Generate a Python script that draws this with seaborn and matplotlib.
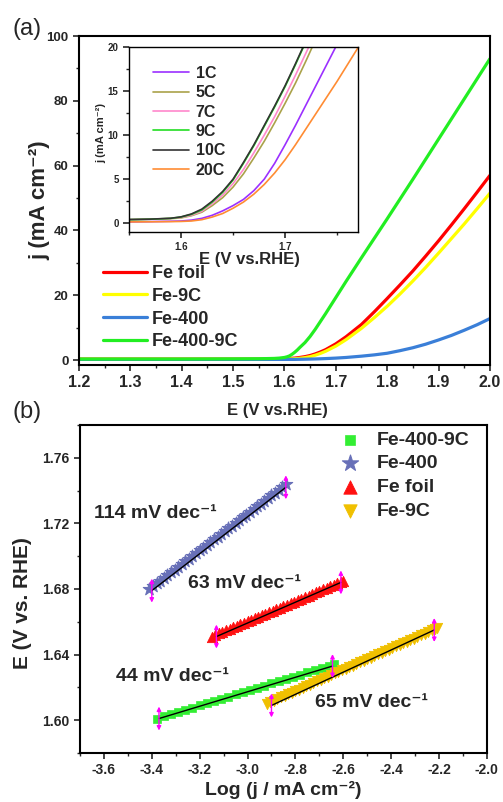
import numpy as np
import pandas as pd
import matplotlib
matplotlib.use('Agg')
import matplotlib.pyplot as plt
import seaborn as sns
from matplotlib.ticker import MultipleLocator, FormatStrFormatter

sns.set_style('ticks')
plt.rcParams['font.family'] = ['Liberation Sans', 'DejaVu Sans']
plt.rcParams['font.weight'] = 'bold'
plt.rcParams['axes.labelweight'] = 'bold'

# (a) LSV curves
E_main = [1.20, 1.30, 1.40, 1.50, 1.55, 1.58, 1.59, 1.60, 1.605, 1.61, 1.615, 1.62,
          1.625, 1.63, 1.64, 1.65, 1.66, 1.67, 1.68, 1.70, 1.72, 1.75, 1.775, 1.80,
          1.825, 1.85, 1.875, 1.90, 1.925, 1.95, 1.975, 2.00]
j_fe_foil = [0.3, 0.3, 0.3, 0.3, 0.3, 0.35, 0.38, 0.4, 0.45, 0.5, 0.55, 0.6,
             0.7, 0.8, 1.05, 1.4, 1.9, 2.5, 3.2, 5.0, 7.2, 11.0, 14.9, 19.0,
             23.2, 27.5, 32.1, 36.8, 41.7, 46.7, 51.8, 57.0]
j_fe_9c = [0.3, 0.3, 0.3, 0.3, 0.3, 0.3, 0.3, 0.3, 0.32, 0.35, 0.38, 0.42,
           0.48, 0.55, 0.75, 1.05, 1.5, 2.05, 2.7, 4.3, 6.3, 9.8, 13.1, 16.6,
           20.4, 24.4, 28.6, 33.0, 37.5, 42.0, 46.7, 51.5]
j_fe_400 = [0.2, 0.2, 0.2, 0.2, 0.2, 0.2, 0.2, 0.2, 0.2, 0.2, 0.2, 0.2,
            0.22, 0.23, 0.26, 0.3, 0.34, 0.39, 0.45, 0.6, 0.8, 1.2, 1.6, 2.1,
            2.9, 3.8, 4.9, 6.2, 7.6, 9.2, 10.9, 12.8]
j_fe_400_9c = [0.3, 0.3, 0.3, 0.35, 0.4, 0.5, 0.6, 0.8, 1.0, 1.3, 1.8, 2.4,
               3.1, 3.9, 5.4, 7.3, 9.5, 11.9, 14.3, 19.3, 24.3, 31.6, 37.6, 43.6,
               49.7, 55.8, 62.0, 68.2, 74.4, 80.6, 86.8, 93.0]
main_names = ['Fe foil', 'Fe-9C', 'Fe-400', 'Fe-400-9C']
main_colors = ['#ff0000', '#ffff00', '#3a7fd8', '#22ee22']

# inset: catalysts with different C content
E_ins = [1.55, 1.57, 1.59, 1.60, 1.61, 1.62, 1.63, 1.64, 1.65, 1.66, 1.67, 1.68,
         1.69, 1.70, 1.71, 1.72, 1.73, 1.74, 1.75, 1.76, 1.77]
j_1c = [0.15, 0.18, 0.22, 0.25, 0.35, 0.55, 0.9, 1.4, 2.0, 2.7, 3.7, 5.0,
        6.8, 8.9, 11.1, 13.4, 15.7, 18.0, 20.3, 22.6, 24.9]
j_5c = [0.4, 0.45, 0.52, 0.6, 0.85, 1.25, 2.0, 2.9, 4.1, 5.6, 7.4, 9.3,
        11.4, 13.6, 15.9, 18.4, 21.0, 23.6, 26.2, 28.8, 31.4]
j_7c = [0.4, 0.45, 0.55, 0.65, 0.9, 1.35, 2.2, 3.2, 4.5, 6.1, 8.0, 10.0,
        12.1, 14.4, 16.8, 19.3, 21.8, 24.4, 27.0, 29.6, 32.2]
j_9c = [0.4, 0.45, 0.55, 0.7, 1.0, 1.5, 2.4, 3.5, 4.9, 6.8, 8.8, 11.0,
        13.2, 15.5, 18.0, 20.6, 23.2, 25.8, 28.4, 31.0, 33.6]
j_10c = [0.42, 0.46, 0.56, 0.72, 1.05, 1.6, 2.5, 3.6, 5.0, 6.9, 8.9, 11.1,
         13.3, 15.6, 18.1, 20.7, 23.3, 25.9, 28.5, 31.1, 33.7]
j_20c = [0.15, 0.16, 0.18, 0.2, 0.25, 0.4, 0.7, 1.1, 1.7, 2.4, 3.3, 4.4,
         5.7, 7.2, 8.9, 10.7, 12.5, 14.3, 16.1, 18.0, 19.9]
ins_names = ['1C', '5C', '7C', '9C', '10C', '20C']
ins_colors = ['#9b30ff', '#aaa24a', '#ff88cc', '#22dd22', '#333333', '#ff8c33']

# (b) Tafel plots
logj_400_9c = [-3.38, -3.35, -3.32, -3.29, -3.26, -3.23, -3.20, -3.17, -3.14, -3.11,
               -3.08, -3.05, -3.02, -2.99, -2.96, -2.93, -2.90, -2.87, -2.84, -2.81,
               -2.78, -2.75, -2.72, -2.69, -2.66, -2.64]
E_400_9c = [1.6010, 1.6023, 1.6037, 1.6050, 1.6064, 1.6077, 1.6090, 1.6104, 1.6117, 1.6130,
            1.6144, 1.6157, 1.6171, 1.6184, 1.6197, 1.6211, 1.6224, 1.6237, 1.6251, 1.6264,
            1.6278, 1.6291, 1.6304, 1.6318, 1.6331, 1.6340]
logj_400 = [-3.410, -3.395, -3.380, -3.365, -3.350, -3.335, -3.320, -3.305, -3.290, -3.275,
            -3.260, -3.245, -3.230, -3.215, -3.200, -3.185, -3.170, -3.155, -3.140, -3.125,
            -3.110, -3.095, -3.080, -3.065, -3.050, -3.035, -3.020, -3.005, -2.990, -2.975,
            -2.960, -2.945, -2.930, -2.915, -2.900, -2.885, -2.870, -2.855, -2.840]
E_400 = [1.6800, 1.6817, 1.6834, 1.6850, 1.6867, 1.6884, 1.6901, 1.6918, 1.6934, 1.6951,
         1.6968, 1.6985, 1.7002, 1.7018, 1.7035, 1.7052, 1.7069, 1.7086, 1.7102, 1.7119,
         1.7136, 1.7153, 1.7170, 1.7186, 1.7203, 1.7220, 1.7237, 1.7254, 1.7270, 1.7287,
         1.7304, 1.7321, 1.7338, 1.7354, 1.7371, 1.7388, 1.7405, 1.7422, 1.7438]
logj_foil = [-3.150, -3.135, -3.120, -3.105, -3.090, -3.075, -3.060, -3.045, -3.030, -3.015,
             -3.000, -2.985, -2.970, -2.955, -2.940, -2.925, -2.910, -2.895, -2.880, -2.865,
             -2.850, -2.835, -2.820, -2.805, -2.790, -2.775, -2.760, -2.745, -2.730, -2.715,
             -2.700, -2.685, -2.670, -2.655, -2.640, -2.625, -2.610, -2.600]
E_foil = [1.6510, 1.6519, 1.6529, 1.6538, 1.6547, 1.6556, 1.6566, 1.6575, 1.6584, 1.6593,
          1.6603, 1.6612, 1.6621, 1.6630, 1.6640, 1.6649, 1.6658, 1.6668, 1.6677, 1.6686,
          1.6695, 1.6705, 1.6714, 1.6723, 1.6732, 1.6742, 1.6751, 1.6760, 1.6769, 1.6779,
          1.6788, 1.6797, 1.6806, 1.6816, 1.6825, 1.6834, 1.6844, 1.6850]
logj_9c = [-2.920, -2.905, -2.890, -2.875, -2.860, -2.845, -2.830, -2.815, -2.800, -2.785,
           -2.770, -2.755, -2.740, -2.725, -2.710, -2.695, -2.680, -2.665, -2.650, -2.635,
           -2.620, -2.605, -2.590, -2.575, -2.560, -2.545, -2.530, -2.515, -2.500, -2.485,
           -2.470, -2.455, -2.440, -2.425, -2.410, -2.395, -2.380, -2.365, -2.350, -2.335,
           -2.320, -2.305, -2.290, -2.275, -2.260, -2.245, -2.230, -2.215, -2.210]
E_9c = [1.6100, 1.6110, 1.6119, 1.6129, 1.6139, 1.6149, 1.6158, 1.6168, 1.6178, 1.6187,
        1.6197, 1.6207, 1.6217, 1.6226, 1.6236, 1.6246, 1.6256, 1.6265, 1.6275, 1.6285,
        1.6294, 1.6304, 1.6314, 1.6324, 1.6333, 1.6343, 1.6353, 1.6362, 1.6372, 1.6382,
        1.6392, 1.6401, 1.6411, 1.6421, 1.6430, 1.6440, 1.6450, 1.6460, 1.6469, 1.6479,
        1.6489, 1.6498, 1.6508, 1.6518, 1.6528, 1.6537, 1.6547, 1.6557, 1.6560]

# linear fit end points (x0, y0, x1, y1) and slope labels
fit_lines = {'Fe-400-9C': (-3.37, 1.601, -2.645, 1.633),
             'Fe-400': (-3.40, 1.679, -2.84, 1.742),
             'Fe foil': (-3.13, 1.651, -2.61, 1.684),
             'Fe-9C': (-2.90, 1.609, -2.22, 1.655)}
slope_text = ['44 mV dec⁻¹', '114 mV dec⁻¹', '63 mV dec⁻¹', '65 mV dec⁻¹']
slope_pos = [(-3.55, 1.6265), (-3.64, 1.726), (-3.25, 1.6835), (-2.72, 1.611)]

fig = plt.figure(figsize=(5.03, 8.02), dpi=100)
ax1 = fig.add_axes([0.157, 0.545, 0.817, 0.410])
axi = fig.add_axes([0.2565, 0.7107, 0.455, 0.2307])
ax2 = fig.add_axes([0.159, 0.0611, 0.809, 0.409])

# ---- panel (a)
main = pd.DataFrame({'E': E_main * 4,
                     'j': j_fe_foil + j_fe_9c + j_fe_400 + j_fe_400_9c,
                     'sample': sum([[n] * len(E_main) for n in main_names], [])})
sns.lineplot(data=main, x='E', y='j', hue='sample', palette=main_colors,
             linewidth=2.3, ax=ax1)
ax1.set_xlim(1.2, 2.0)
ax1.set_ylim(-1.5, 100)
ax1.xaxis.set_major_locator(MultipleLocator(0.1))
ax1.xaxis.set_minor_locator(MultipleLocator(0.05))
ax1.yaxis.set_major_locator(MultipleLocator(20))
ax1.yaxis.set_minor_locator(MultipleLocator(10))
ax1.set_xlabel('E (V vs.RHE)', fontsize=12)
ax1.set_ylabel('j (mA cm⁻²)', fontsize=16)
ax1.xaxis.set_label_coords(0.484, -0.1155)
ax1.yaxis.set_label_coords(-0.07, 0.5)
ax1.tick_params(axis='x', labelsize=11.5)
ax1.tick_params(axis='y', labelsize=9.5)
ax1.legend(loc='lower left', bbox_to_anchor=(0.02, -0.005), frameon=False,
           prop={'size': 13, 'weight': 'bold'}, handlelength=2.4,
           labelspacing=0.32, handletextpad=0.3)

# inset
ins = pd.DataFrame({'E': E_ins * 6,
                    'j': j_1c + j_5c + j_7c + j_9c + j_10c + j_20c,
                    'sample': sum([[n] * len(E_ins) for n in ins_names], [])})
sns.lineplot(data=ins, x='E', y='j', hue='sample', palette=ins_colors,
             linewidth=1.2, ax=axi)
axi.set_xlim(1.55, 1.77)
axi.set_ylim(-1, 20)
axi.xaxis.set_major_locator(MultipleLocator(0.1))
axi.xaxis.set_minor_locator(MultipleLocator(0.05))
axi.yaxis.set_major_locator(MultipleLocator(5))
axi.yaxis.set_minor_locator(MultipleLocator(2.5))
axi.set_xlabel('E (V vs.RHE)', fontsize=12)
axi.set_ylabel('j (mA cm⁻²)', fontsize=8)
axi.xaxis.set_label_coords(0.524, -0.11)
axi.yaxis.set_label_coords(-0.1, 0.535)
axi.tick_params(labelsize=7)
axi.legend(loc='upper left', bbox_to_anchor=(0.04, 0.975), frameon=False,
           prop={'size': 11.5, 'weight': 'bold'}, handlelength=2.3,
           labelspacing=0.27, handletextpad=0.4)

# ---- panel (b)
sns.scatterplot(x=logj_400_9c, y=E_400_9c, marker='s', color='#33ee33',
                edgecolor='#33ee33', s=36, label='Fe-400-9C', ax=ax2)
sns.scatterplot(x=logj_400, y=E_400, marker='*', color='#6870b8',
                edgecolor='#6870b8', s=90, label='Fe-400', ax=ax2)
sns.scatterplot(x=logj_foil, y=E_foil, marker='^', color='#ff1111',
                edgecolor='#ff1111', s=55, label='Fe foil', ax=ax2)
sns.scatterplot(x=logj_9c, y=E_9c, marker='v', color='#f0c000',
                edgecolor='#f0c000', s=55, label='Fe-9C', ax=ax2)
for name, (x0, y0, x1, y1) in fit_lines.items():
    ax2.plot([x0, x1], [y0, y1], color='black', lw=1, zorder=5)
    for xa, ya in [(x0, y0), (x1, y1)]:
        ax2.annotate('', xy=(xa, ya + 0.009), xytext=(xa, ya - 0.009),
                     arrowprops=dict(arrowstyle='<|-|>', color='magenta',
                                     lw=1, mutation_scale=6), zorder=6)
for txt, (tx, ty) in zip(slope_text, slope_pos):
    ax2.text(tx, ty, txt, fontsize=14, fontweight='bold', va='center')
ax2.set_xlim(-3.7, -2.0)
ax2.set_ylim(1.58, 1.78)
ax2.xaxis.set_major_locator(MultipleLocator(0.2))
ax2.xaxis.set_minor_locator(MultipleLocator(0.1))
ax2.yaxis.set_major_locator(MultipleLocator(0.04))
ax2.yaxis.set_minor_locator(MultipleLocator(0.02))
ax2.yaxis.set_major_formatter(FormatStrFormatter('%.2f'))
ax2.xaxis.set_major_formatter(FormatStrFormatter('%.1f'))
ax2.set_xlabel('Log (j / mA cm⁻²)', fontsize=14)
ax2.set_ylabel('E (V vs. RHE)', fontsize=15)
ax2.xaxis.set_label_coords(0.5, -0.085)
ax2.yaxis.set_label_coords(-0.118, 0.457)
ax2.tick_params(labelsize=10)
ax2.legend(loc='upper right', bbox_to_anchor=(1.0, 1.035), frameon=False,
           prop={'size': 14, 'weight': 'bold'}, handletextpad=0.35,
           labelspacing=0.32, markerscale=1.3)

for ax in (ax1, axi, ax2):
    for sp in ax.spines.values():
        sp.set_linewidth(1.0 if ax is axi else 1.5)
        sp.set_color('black')
    ax.tick_params(which='major', direction='out', length=4, width=1.2,
                   top=False, right=False)
    ax.tick_params(which='minor', direction='out', length=2.5, width=1,
                   top=False, right=False)
    for lab in ax.get_xticklabels() + ax.get_yticklabels():
        lab.set_fontweight('bold')

fig.text(0.025, 1 - 29 / 802, '(a)', fontsize=17, fontweight='normal', va='center')
fig.text(0.025, 1 - 412 / 802, '(b)', fontsize=17, fontweight='normal', va='center')

fig.savefig('out.png', dpi=100)
